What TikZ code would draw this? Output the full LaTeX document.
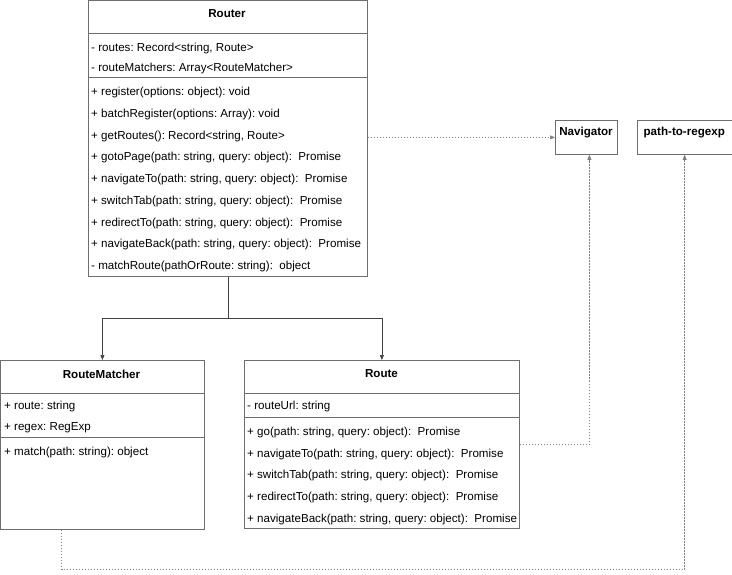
\documentclass[tikz,border=0pt]{standalone}
\usepackage{fontspec}
\setmainfont{Liberation Sans}
\usetikzlibrary{arrows.meta}
\definecolor{linegray}{HTML}{6E6E6E}
\definecolor{dotgray}{HTML}{808080}
\frenchspacing

\begin{document}
\begin{tikzpicture}[x=1pt,y=-1pt,
  font=\fontsize{11.6}{14}\selectfont,
  classbox/.style={draw=linegray, line width=0.8pt, fill=white, anchor=north west, inner sep=0},
  classline/.style={draw=linegray, line width=0.8pt},
  classname/.style={font=\fontsize{11.6}{14}\selectfont\bfseries, inner sep=0, yshift=-2pt},
  member/.style={anchor=west, inner sep=0, text height=8pt, text depth=2.5pt, yshift=-2pt},
  assoc/.style={draw=black!75, line width=0.7pt, -{Triangle[length=5pt,width=4pt]}},
  dep/.style={draw=dotgray, line width=0.7pt, dash pattern=on 1.5pt off 1.5pt,
              -{Triangle[length=5pt,width=4pt]}}]
\useasboundingbox (0,0) rectangle (732,575);
\def\rowstep{21.75}

% classe Router
\node[classbox, minimum width=279pt, minimum height=275.5pt] (router) at (88,0.5) {};
\node[classname] (router-name) at (227,12) {Router};
\draw[classline] (router.west |- 0,33.5) -- (router.east |- 0,33.5);
\draw[classline] (router.west |- 0,77) -- (router.east |- 0,77);
\node[member] (router-a1) at (91,47) {- routes: Record<string, Route>};
\node[member] (router-a2) at (91,67) {- routeMatchers: Array<RouteMatcher>};
\foreach \txt [count=\i] in {
  {+ register(options: object): void},
  {+ batchRegister(options: Array): void},
  {+ getRoutes(): Record<string, Route>},
  {+ gotoPage(path: string, query: object):\ \ Promise},
  {+ navigateTo(path: string, query: object):\ \ Promise},
  {+ switchTab(path: string, query: object):\ \ Promise},
  {+ redirectTo(path: string, query: object):\ \ Promise},
  {+ navigateBack(path: string, query: object):\ \ Promise},
  {- matchRoute(pathOrRoute: string):\ \ object}} {
  \node[member] (router-m\i) at (91,91+\i*\rowstep-\rowstep) {\txt};
}

% classe RouteMatcher
\node[classbox, minimum width=203pt, minimum height=169pt] (matcher) at (0.5,360) {};
\node[classname] (matcher-name) at (101.5,372) {RouteMatcher};
\draw[classline] (matcher.west |- 0,393) -- (matcher.east |- 0,393);
\draw[classline] (matcher.west |- 0,437) -- (matcher.east |- 0,437);
\node[member] (matcher-a1) at (4,405) {+ route: string};
\node[member] (matcher-a2) at (4,426) {+ regex: RegExp};
\node[member] (matcher-m1) at (4,451) {+ match(path: string): object};

% classe Route
\node[classbox, minimum width=275pt, minimum height=168pt] (route) at (244,360) {};
\node[classname] (route-name) at (381.5,372) {Route};
\draw[classline] (route.west |- 0,393) -- (route.east |- 0,393);
\draw[classline] (route.west |- 0,417) -- (route.east |- 0,417);
\node[member] (route-a1) at (247,405) {- routeUrl: string};
\foreach \txt [count=\i] in {
  {+ go(path: string, query: object):\ \ Promise},
  {+ navigateTo(path: string, query: object):\ \ Promise},
  {+ switchTab(path: string, query: object):\ \ Promise},
  {+ redirectTo(path: string, query: object):\ \ Promise},
  {+ navigateBack(path: string, query: object):\ \ Promise}} {
  \node[member] (route-m\i) at (247,431+\i*21.6-21.6) {\txt};
}

% modules externes
\node[classbox, minimum width=62pt, minimum height=34pt] (navigator) at (555,120) {};
\node[classname] (navigator-name) at (586,131) {Navigator};
\node[classbox, minimum width=94.5pt, minimum height=34pt] (regexp) at (637,120) {};
\node[classname] (regexp-name) at (684.25,131) {path-to-regexp};

% liens
\draw[assoc] (router.south) -- ++(0,42) coordinate (fork) -| (matcher.north);
\draw[assoc] (fork) -| (route.north);
\draw[dep] (router.east |- navigator.west) -- (navigator.west);
\draw[dep] (route.east) -| ([xshift=3pt]navigator.south);
\draw[dep] ([xshift=61pt]matcher.south west) -- ++(0,40) -| (regexp.south);
\end{tikzpicture}
\end{document}
